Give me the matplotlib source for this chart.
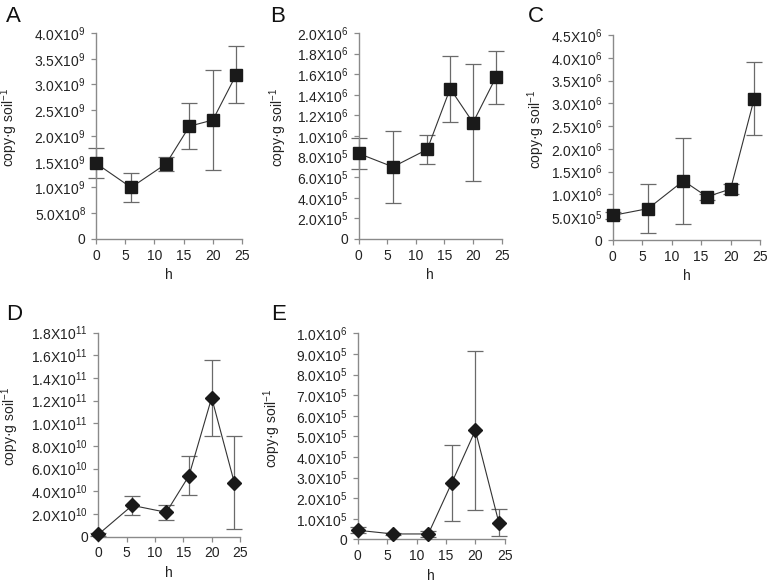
import math
import matplotlib
matplotlib.use('Agg')
import matplotlib.pyplot as plt
from matplotlib.ticker import FixedLocator, FuncFormatter

plt.rcParams['font.family'] = ['Liberation Sans', 'DejaVu Sans']
plt.rcParams['mathtext.fontset'] = 'custom'
plt.rcParams['mathtext.rm'] = 'Liberation Sans'
plt.rcParams['mathtext.it'] = 'Liberation Sans:italic'
plt.rcParams['mathtext.bf'] = 'Liberation Sans:bold'

# sampling times (h)
hours = [0, 6, 12, 16, 20, 24]

# panel A
a_mean = [1.47e9, 1.00e9, 1.46e9, 2.19e9, 2.31e9, 3.19e9]
a_err = [0.29e9, 0.29e9, 0.14e9, 0.45e9, 0.98e9, 0.55e9]
a_ticks = [0, 0.5e9, 1.0e9, 1.5e9, 2.0e9, 2.5e9, 3.0e9, 3.5e9, 4.0e9]

# panel B
b_mean = [0.83e6, 0.70e6, 0.87e6, 1.46e6, 1.13e6, 1.57e6]
b_err = [0.155e6, 0.35e6, 0.14e6, 0.32e6, 0.57e6, 0.26e6]
b_ticks = [0, 0.2e6, 0.4e6, 0.6e6, 0.8e6, 1.0e6, 1.2e6, 1.4e6, 1.6e6, 1.8e6, 2.0e6]

# panel C
c_mean = [0.54e6, 0.69e6, 1.30e6, 0.95e6, 1.12e6, 3.10e6]
c_err = [0.08e6, 0.53e6, 0.94e6, 0.07e6, 0.12e6, 0.80e6]
c_ticks = [0, 0.5e6, 1.0e6, 1.5e6, 2.0e6, 2.5e6, 3.0e6, 3.5e6, 4.0e6, 4.5e6]

# panel D
d_mean = [0.2e10, 2.76e10, 2.15e10, 5.38e10, 12.26e10, 4.76e10]
d_err = [0.1e10, 0.83e10, 0.65e10, 1.7e10, 3.35e10, 4.1e10]
d_ticks = [0, 2e10, 4e10, 6e10, 8e10, 10e10, 12e10, 14e10, 16e10, 18e10]

# panel E
e_mean = [0.044e6, 0.026e6, 0.026e6, 0.275e6, 0.529e6, 0.081e6]
e_err = [0.015e6, 0.005e6, 0.015e6, 0.185e6, 0.385e6, 0.067e6]
e_ticks = [0, 0.1e6, 0.2e6, 0.3e6, 0.4e6, 0.5e6, 0.6e6, 0.7e6, 0.8e6, 0.9e6, 1.0e6]

x_ticks = [0, 5, 10, 15, 20, 25]

SPINE = '#8a8a8a'
ERR = '#6a6a6a'
MARK = '#1a1a1a'


def sci_label(v, pos=None):
    if v == 0:
        return '0'
    e = int(math.floor(math.log10(v) + 1e-9))
    m = v / 10 ** e
    return f'{m:.1f}X10$^{{{e}}}$'


def draw_panel(fig, rect, mean, err, yticks, marker, ms, letter, letter_xy, label_x):
    ax = fig.add_axes(rect)
    ax.errorbar(hours, mean, yerr=err, fmt='none', ecolor=ERR,
                elinewidth=0.9, capsize=5.5, capthick=0.9, zorder=2)
    ax.plot(hours, mean, color='#333333', lw=0.8, marker=marker, ms=ms,
            mfc=MARK, mec=MARK, zorder=3)
    for art in ax.get_children():
        try:
            art.set_clip_on(False)
        except AttributeError:
            pass

    ax.set_xlim(0, 25)
    ax.set_ylim(0, yticks[-1])
    ax.xaxis.set_major_locator(FixedLocator(x_ticks))
    ax.yaxis.set_major_locator(FixedLocator(yticks))
    ax.yaxis.set_major_formatter(FuncFormatter(sci_label))

    for side in ['top', 'right']:
        ax.spines[side].set_visible(False)
    for side in ['left', 'bottom']:
        ax.spines[side].set_color(SPINE)
        ax.spines[side].set_linewidth(1.0)
    ax.tick_params(axis='both', direction='out', length=3.5, width=0.9,
                   color=SPINE, labelsize=10, labelcolor='#222222')
    ax.tick_params(axis='y', pad=4)
    ax.tick_params(axis='x', pad=3.5)

    ax.set_xlabel('h', fontsize=10, color='#222222', labelpad=4)
    ax.set_ylabel('copy·g soil$^{-1}$', fontsize=10, color='#222222')
    ax.yaxis.set_label_coords(label_x, 0.54)

    fig.text(letter_xy[0] / 777, 1 - letter_xy[1] / 585, letter,
             fontsize=16, ha='left', va='center', color='#111111')
    return ax


fig = plt.figure(figsize=(7.77, 5.85), dpi=100)

draw_panel(fig, [0.1236, 0.5915, 0.1879, 0.3521], a_mean, a_err, a_ticks,
           's', 8.5, 'A', (6, 16), -0.52)
draw_panel(fig, [0.4616, 0.5915, 0.1840, 0.3521], b_mean, b_err, b_ticks,
           's', 8.5, 'B', (270, 16), -0.49)
draw_panel(fig, [0.7886, 0.5897, 0.1896, 0.3504], c_mean, c_err, c_ticks,
           's', 8.5, 'C', (528, 16), -0.446)
draw_panel(fig, [0.1265, 0.0826, 0.1824, 0.3487], d_mean, d_err, d_ticks,
           'D', 7.5, 'D', (6, 315), -0.545)
draw_panel(fig, [0.4604, 0.0781, 0.1892, 0.3521], e_mean, e_err, e_ticks,
           'D', 7.5, 'E', (271, 315), -0.505)

fig.savefig('out.png', dpi=100)
